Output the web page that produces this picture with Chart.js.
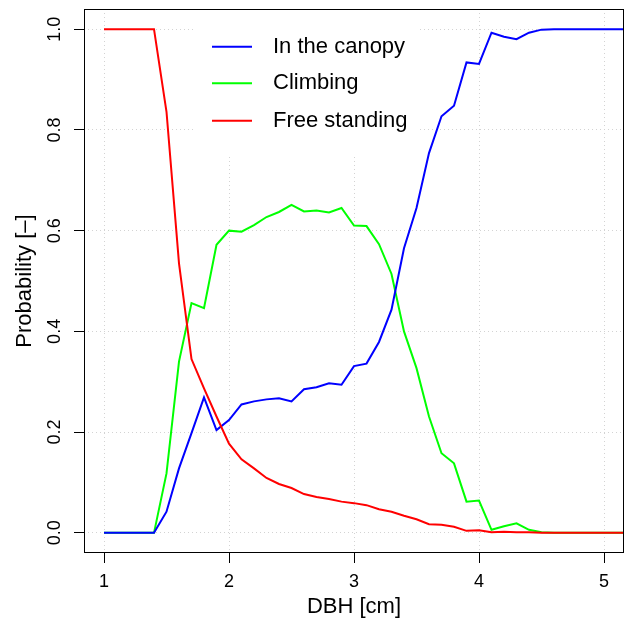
<!DOCTYPE html>
<html lang="en">
<head>
  <meta charset="UTF-8">
  <title>Probability by DBH</title>
  <script src="https://cdn.jsdelivr.net/npm/chart.js"></script>
  <style>
    body {
      margin: 0;
      background: #fff;
    }
    canvas {
      display: block;
    }
  </style>
</head>
<body>
  <canvas id="chart" width="629" height="622"></canvas>

  <script>
    // DBH classes (cm)
    const dbh = [1.0, 1.1, 1.2, 1.3, 1.4, 1.5, 1.6, 1.7, 1.8, 1.9,
                 2.0, 2.1, 2.2, 2.3, 2.4, 2.5, 2.6, 2.7, 2.8, 2.9,
                 3.0, 3.1, 3.2, 3.3, 3.4, 3.5, 3.6, 3.7, 3.8, 3.9,
                 4.0, 4.1, 4.2, 4.3, 4.4, 4.5, 4.6, 4.7, 4.8, 4.9,
                 5.0, 5.1, 5.2];

    const inCanopy = [0, 0, 0, 0, 0, 0.042, 0.128, 0.198, 0.269, 0.204,
                      0.224, 0.255, 0.261, 0.265, 0.267, 0.261, 0.285, 0.289, 0.297, 0.294,
                      0.331, 0.336, 0.379, 0.443, 0.565, 0.645, 0.754, 0.827, 0.848, 0.934,
                      0.931, 0.993, 0.985, 0.980, 0.993, 0.999, 1, 1, 1, 1,
                      1, 1, 1];

    const climbing = [0, 0, 0, 0, 0, 0.118, 0.340, 0.456, 0.446, 0.572,
                      0.600, 0.598, 0.611, 0.627, 0.637, 0.651, 0.638, 0.640, 0.636, 0.645,
                      0.610, 0.609, 0.573, 0.514, 0.400, 0.327, 0.231, 0.158, 0.138, 0.062,
                      0.064, 0.006, 0.013, 0.019, 0.006, 0.001, 0, 0, 0, 0,
                      0, 0, 0];

    const freeStanding = [1, 1, 1, 1, 1, 0.836, 0.535, 0.345, 0.287, 0.231,
                          0.177, 0.146, 0.128, 0.109, 0.097, 0.089, 0.077, 0.071, 0.067, 0.062,
                          0.059, 0.055, 0.047, 0.042, 0.034, 0.027, 0.017, 0.016, 0.012, 0.004,
                          0.005, 0.001, 0.002, 0.001, 0.001, 0, 0, 0, 0, 0,
                          0, 0, 0];

    const seriesNames = ['In the canopy', 'Climbing', 'Free standing'];
    const seriesColors = ['#0000ff', '#00ff00', '#ff0000'];

    const xTicks = [1, 2, 3, 4, 5];
    const yTicks = [0, 0.2, 0.4, 0.6, 0.8, 1.0];
    const yTickLabels = ['0.0', '0.2', '0.4', '0.6', '0.8', '1.0'];

    const FONT = "'Liberation Sans', Arial, Helvetica, sans-serif";

    function toPoints(values) {
      return values.map((v, i) => ({ x: dbh[i], y: v }));
    }

    // box round the plot, rotated y tick labels and the legend (R style)
    const rStyle = {
      id: 'rStyle',
      afterDraw(chart) {
        const ctx = chart.ctx;
        const a = chart.chartArea;
        const yScale = chart.scales.y;

        ctx.save();
        ctx.strokeStyle = '#000';
        ctx.lineWidth = 1;
        ctx.strokeRect(Math.round(a.left) + 0.5, Math.round(a.top) + 0.5,
                       Math.round(a.right - a.left) - 1, Math.round(a.bottom - a.top) - 1);

        // y tick labels, reading upwards
        ctx.fillStyle = '#000';
        ctx.font = '18px ' + FONT;
        ctx.textAlign = 'center';
        ctx.textBaseline = 'middle';
        yTicks.forEach((v, i) => {
          ctx.save();
          ctx.translate(55, yScale.getPixelForValue(v));
          ctx.rotate(-Math.PI / 2);
          ctx.fillText(yTickLabels[i], 0, 0);
          ctx.restore();
        });

        // legend
        ctx.fillStyle = '#fff';
        ctx.fillRect(193, 13, 227, 142);
        ctx.font = '22px ' + FONT;
        ctx.textAlign = 'left';
        ctx.lineWidth = 2;
        const rows = [46.7, 83.3, 120.7];
        seriesNames.forEach((name, i) => {
          ctx.strokeStyle = seriesColors[i];
          ctx.beginPath();
          ctx.moveTo(212, rows[i]);
          ctx.lineTo(252, rows[i]);
          ctx.stroke();
          ctx.fillStyle = '#000';
          ctx.fillText(name, 273, rows[i]);
        });
        ctx.restore();
      }
    };

    const grid = {
      color: '#d3d3d3',
      lineWidth: 1,
      tickColor: '#000',
      tickBorderDash: [],
      tickLength: 10
    };
    // dotted grid lines (v4 keeps the dash under border)
    const border = { display: false, dash: [1, 3] };

    new Chart(document.getElementById('chart'), {
      type: 'line',
      data: {
        datasets: [
          { label: seriesNames[0], data: toPoints(inCanopy), borderColor: seriesColors[0], order: 2 },
          { label: seriesNames[1], data: toPoints(climbing), borderColor: seriesColors[1], order: 3 },
          { label: seriesNames[2], data: toPoints(freeStanding), borderColor: seriesColors[2], order: 1 }
        ]
      },
      options: {
        responsive: false,
        animation: false,
        layout: { padding: { top: 9, right: 5, left: 0, bottom: 0 } },
        elements: {
          line: { borderWidth: 2, tension: 0, fill: false },
          point: { radius: 0 }
        },
        plugins: {
          legend: { display: false },
          tooltip: { enabled: false }
        },
        scales: {
          x: {
            type: 'linear',
            min: 0.84,
            max: 5.16,
            z: 1,
            afterBuildTicks: s => { s.ticks = xTicks.map(v => ({ value: v })); },
            afterFit: s => { s.height = 69; },
            grid: grid,
            border: border,
            ticks: {
              color: '#000',
              font: { family: FONT, size: 18 },
              padding: 8,
              maxRotation: 0,
              callback: v => String(v)
            },
            title: {
              display: true,
              text: 'DBH [cm]',
              color: '#000',
              font: { family: FONT, size: 22 },
              padding: { top: 0, bottom: 2 }
            }
          },
          y: {
            min: -0.04,
            max: 1.04,
            z: 1,
            afterBuildTicks: s => { s.ticks = yTicks.map(v => ({ value: v })); },
            afterFit: s => { s.width = 84; },
            grid: grid,
            border: border,
            ticks: { display: false },
            title: {
              display: true,
              text: 'Probability [–]',
              color: '#000',
              font: { family: FONT, size: 22 },
              padding: { top: 12, bottom: 0 }
            }
          }
        }
      },
      plugins: [rStyle]
    });
  </script>
</body>
</html>
